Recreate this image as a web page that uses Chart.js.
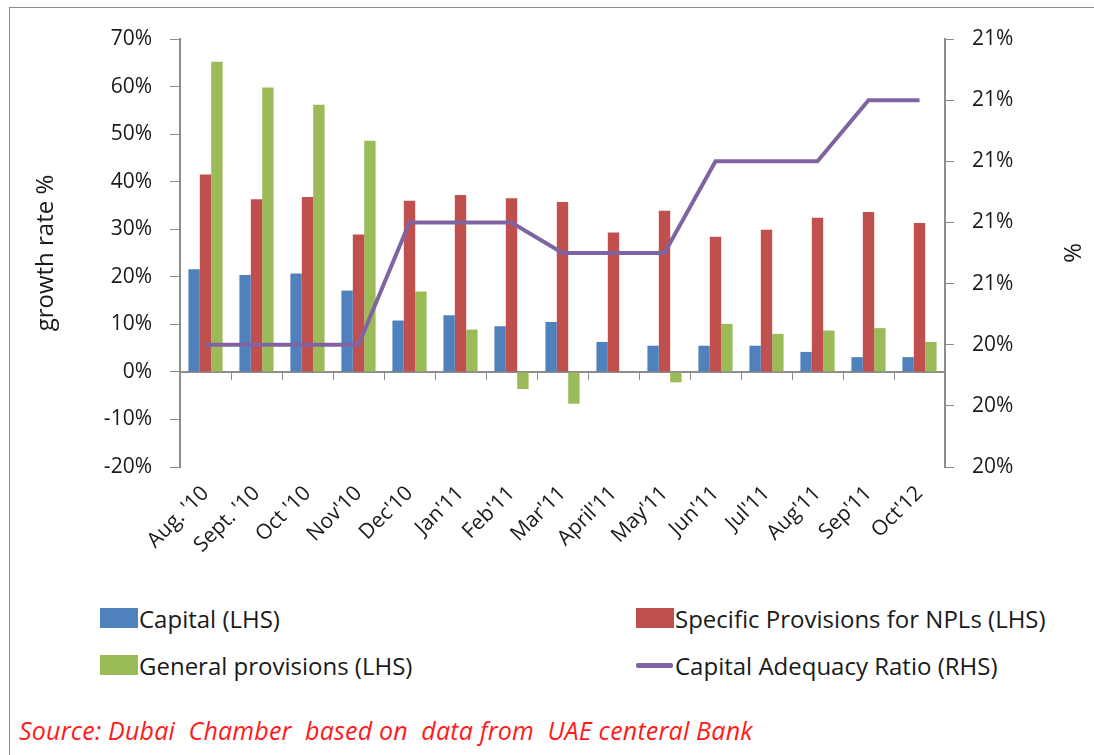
<!DOCTYPE html>
<html>
<head>
<meta charset="utf-8">
<script src="https://cdn.jsdelivr.net/npm/chart.js@4.4.1/dist/chart.umd.min.js"></script>
<style>
  body { margin: 0; background: #fff; font-family: "Open Sans", sans-serif; width: 1094px; height: 755px; overflow: hidden; }
  #frame { position: absolute; left: 9px; top: 7px; width: 1090px; height: 760px;
           border-left: 1px solid #8c8c8c; border-top: 1px solid #8c8c8c; }
  #wrap { position: absolute; left: 10px; top: 8px; width: 1084px; height: 585px; }
  .item { position: absolute; display: flex; align-items: center; height: 30px; font-size: 24px; color: #1a1a1a; white-space: nowrap; }
  .box { width: 38px; height: 20px; margin-right: 1px; }
  .ln { width: 37px; height: 5px; margin-right: 2px; border-radius: 2px; }
  #source { position: absolute; left: 19px; top: 713px; color: #ff1a1a; font-style: italic; font-size: 25px; letter-spacing: 0.2px; white-space: nowrap; }
</style>
</head>
<body>
<div id="frame"></div>
<div id="wrap"><canvas id="myChart"></canvas></div>
<div id="legend"></div>
<div id="source">Source: Dubai&nbsp; Chamber&nbsp; based on&nbsp; data from&nbsp; UAE centeral Bank</div>
<script>
const categories = ["Aug. '10", "Sept. '10", "Oct '10", "Nov'10", "Dec'10", "Jan'11", "Feb'11",
  "Mar'11", "April'11", "May'11", "Jun'11", "Jul'11", "Aug'11", "Sep'11", "Oct'12"];

const capital = [21.6, 20.4, 20.7, 17.1, 10.8, 11.9, 9.6, 10.5, 6.3, 5.5, 5.5, 5.5, 4.2, 3.1, 3.1];
const specificProvisions = [41.5, 36.3, 36.8, 28.9, 36.0, 37.2, 36.5, 35.7, 29.3, 33.9, 28.4, 29.9, 32.4, 33.6, 31.3];
const generalProvisions = [65.2, 59.8, 56.2, 48.6, 16.9, 8.9, -3.6, -6.7, 0, -2.2, 10.1, 8.0, 8.7, 9.2, 6.3];
const capitalAdequacy = [20.4, 20.4, 20.4, 20.4, 20.8, 20.8, 20.8, 20.7, 20.7, 20.7, 21.0, 21.0, 21.0, 21.2, 21.2];

const leftTicks = { min: -20, max: 70, step: 10 };
const rightTicks = { min: 20, max: 21.4, step: 0.2 };

const tickFont = { family: "Open Sans", size: 21 };
const titleFont = { family: "Open Sans", size: 24 };
const textColor = "#1a1a1a";
const axisGrey = "#8c8c8c";

const ctx = document.getElementById("myChart").getContext("2d");

const chart = new Chart(ctx, {
  type: "bar",
  data: {
    labels: categories,
    datasets: [
      { label: "Capital (LHS)", data: capital, backgroundColor: "#4f81bd", yAxisID: "y", order: 2 },
      { label: "Specific Provisions for NPLs (LHS)", data: specificProvisions, backgroundColor: "#c0504d", yAxisID: "y", order: 2 },
      { label: "General provisions (LHS)", data: generalProvisions, backgroundColor: "#9bbb59", yAxisID: "y", order: 2 },
      {
        type: "line",
        label: "Capital Adequacy Ratio (RHS)",
        data: capitalAdequacy,
        borderColor: "#8064a2",
        backgroundColor: "#8064a2",
        borderWidth: 4,
        pointRadius: 0,
        tension: 0,
        yAxisID: "y1",
        order: 1,
      },
    ],
  },
  options: {
    responsive: true,
    maintainAspectRatio: false,
    animation: false,
    layout: { padding: { top: 31, left: 0, right: 0, bottom: 0 } },
    datasets: { bar: { barPercentage: 1, categoryPercentage: 0.67 } },
    plugins: { legend: { display: false }, tooltip: { enabled: false } },
    scales: {
      x: {
        type: "category",
        grid: { display: false },
        border: { display: false },
        ticks: { font: tickFont, color: textColor, minRotation: 45, maxRotation: 45, padding: 6 },
        afterFit: (axis) => { axis.height = 585 - 459; },
      },
      xZero: {
        type: "category",
        labels: categories,
        position: { y: 0 },
        offset: true,
        grid: { display: true, drawOnChartArea: false, drawTicks: true, tickLength: 7, color: axisGrey, offset: true },
        border: { display: true, color: axisGrey, width: 2 },
        ticks: { display: false },
      },
      y: {
        position: "left",
        min: leftTicks.min,
        max: leftTicks.max,
        grid: { display: true, drawOnChartArea: false, drawTicks: true, tickLength: 10, color: axisGrey },
        border: { display: true, color: axisGrey, width: 2 },
        ticks: { stepSize: leftTicks.step, font: tickFont, color: textColor, padding: 18, callback: (v) => v + "%" },
        title: { display: true, text: "growth rate %", font: titleFont, color: textColor, padding: { top: 22, bottom: 0 } },
        afterFit: (axis) => { axis.width = 170; },
      },
      y1: {
        position: "right",
        min: rightTicks.min,
        max: rightTicks.max,
        grid: { display: true, drawOnChartArea: false, drawTicks: true, tickLength: 9, color: axisGrey },
        border: { display: true, color: axisGrey, width: 2 },
        ticks: { stepSize: rightTicks.step, font: tickFont, color: textColor, padding: 18, callback: (v) => Math.round(v) + "%" },
        title: { display: true, text: "%", font: titleFont, color: textColor, padding: { top: 9, bottom: 0 } },
        afterFit: (axis) => { axis.width = 149; },
      },
    },
  },
});

// Two-column legend built from the datasets
const legendPos = [
  { left: 100, top: 603 },
  { left: 636, top: 603 },
  { left: 100, top: 650 },
  { left: 636, top: 650 },
];
const legendEl = document.getElementById("legend");
chart.data.datasets.forEach((ds, i) => {
  const item = document.createElement("div");
  item.className = "item";
  item.style.left = legendPos[i].left + "px";
  item.style.top = legendPos[i].top + "px";
  const swatch = document.createElement("span");
  swatch.className = ds.type === "line" ? "ln" : "box";
  swatch.style.background = ds.backgroundColor;
  const text = document.createElement("span");
  text.textContent = ds.label;
  item.appendChild(swatch);
  item.appendChild(text);
  legendEl.appendChild(item);
});
</script>
</body>
</html>
